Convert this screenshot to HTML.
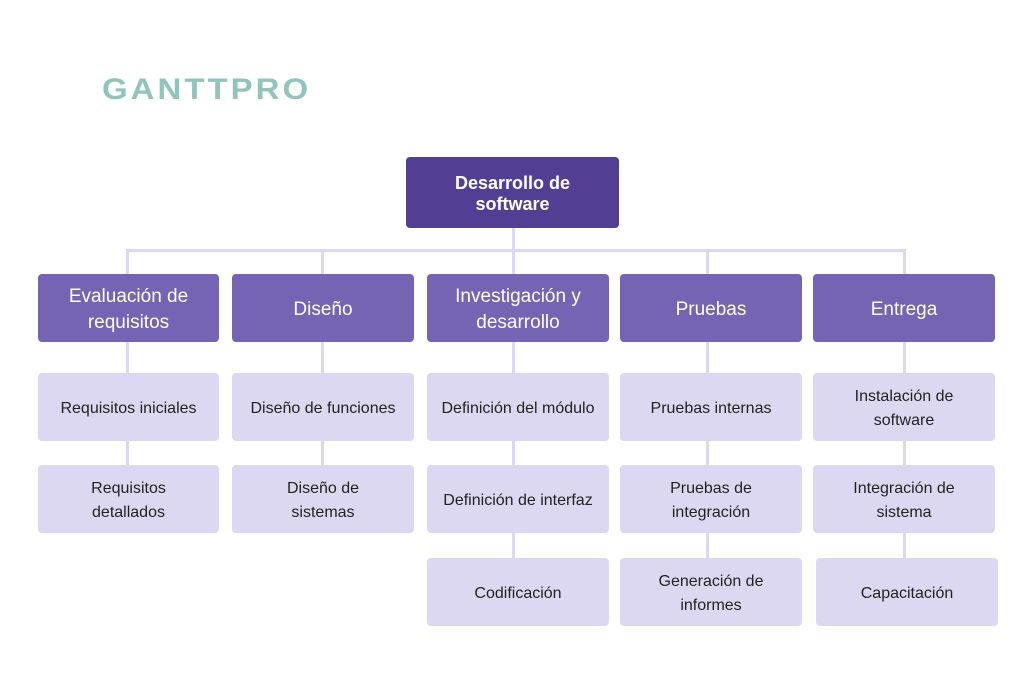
<!DOCTYPE html>
<html><head><style>
body{margin:0;width:1024px;height:675px;background:#fff;position:relative;font-family:"Liberation Sans",sans-serif;overflow:hidden}
.b{position:absolute;display:flex;align-items:center;justify-content:center;text-align:center;border-radius:4px;box-sizing:border-box;padding:3px 4px 0}
.r{background:#523f93;color:#fff;font-size:18px;font-weight:bold;line-height:21px}
.l1{background:#7563b3;color:#fff;font-size:19px;line-height:26px;height:68px;top:274px}
.l2{background:#ddd8f2;color:#222;font-size:16px;line-height:24px;height:68px}
.ln{position:absolute;background:#dcd7f3}
.logo{position:absolute;left:102px;top:72px;font-size:33px;font-weight:bold;color:#91c4bd;letter-spacing:3px;transform:scaleY(0.9);transform-origin:top left}
</style></head><body>
<div class="logo">GANTTPRO</div>
<div class="ln" style="left:512px;top:228px;width:3px;height:24px"></div>
<div class="ln" style="left:126px;top:249px;width:780px;height:3px"></div>
<div class="ln" style="left:126px;top:249px;width:3px;height:25px"></div>
<div class="ln" style="left:321px;top:249px;width:3px;height:25px"></div>
<div class="ln" style="left:512px;top:249px;width:3px;height:25px"></div>
<div class="ln" style="left:706px;top:249px;width:3px;height:25px"></div>
<div class="ln" style="left:903px;top:249px;width:3px;height:25px"></div>
<div class="ln" style="left:126px;top:342px;width:3px;height:123px"></div>
<div class="ln" style="left:321px;top:342px;width:3px;height:123px"></div>
<div class="ln" style="left:512px;top:342px;width:3px;height:216px"></div>
<div class="ln" style="left:706px;top:342px;width:3px;height:216px"></div>
<div class="ln" style="left:903px;top:342px;width:3px;height:216px"></div>
<div class="b r" style="left:406px;top:157px;width:213px;height:71px">Desarrollo de<br>software</div>
<div class="b l1" style="left:38px;width:181px">Evaluación de<br>requisitos</div>
<div class="b l1" style="left:232px;width:182px">Diseño</div>
<div class="b l1" style="left:427px;width:182px">Investigación y<br>desarrollo</div>
<div class="b l1" style="left:620px;width:182px">Pruebas</div>
<div class="b l1" style="left:813px;width:182px">Entrega</div>
<div class="b l2" style="left:38px;top:373px;width:181px">Requisitos iniciales</div>
<div class="b l2" style="left:38px;top:465px;width:181px">Requisitos<br>detallados</div>
<div class="b l2" style="left:232px;top:373px;width:182px">Diseño de funciones</div>
<div class="b l2" style="left:232px;top:465px;width:182px">Diseño de<br>sistemas</div>
<div class="b l2" style="left:427px;top:373px;width:182px">Definición del módulo</div>
<div class="b l2" style="left:427px;top:465px;width:182px">Definición de interfaz</div>
<div class="b l2" style="left:427px;top:558px;width:182px">Codificación</div>
<div class="b l2" style="left:620px;top:373px;width:182px">Pruebas internas</div>
<div class="b l2" style="left:620px;top:465px;width:182px">Pruebas de<br>integración</div>
<div class="b l2" style="left:620px;top:558px;width:182px">Generación de<br>informes</div>
<div class="b l2" style="left:813px;top:373px;width:182px">Instalación de<br>software</div>
<div class="b l2" style="left:813px;top:465px;width:182px">Integración de<br>sistema</div>
<div class="b l2" style="left:816px;top:558px;width:182px">Capacitación</div>
</body></html>
